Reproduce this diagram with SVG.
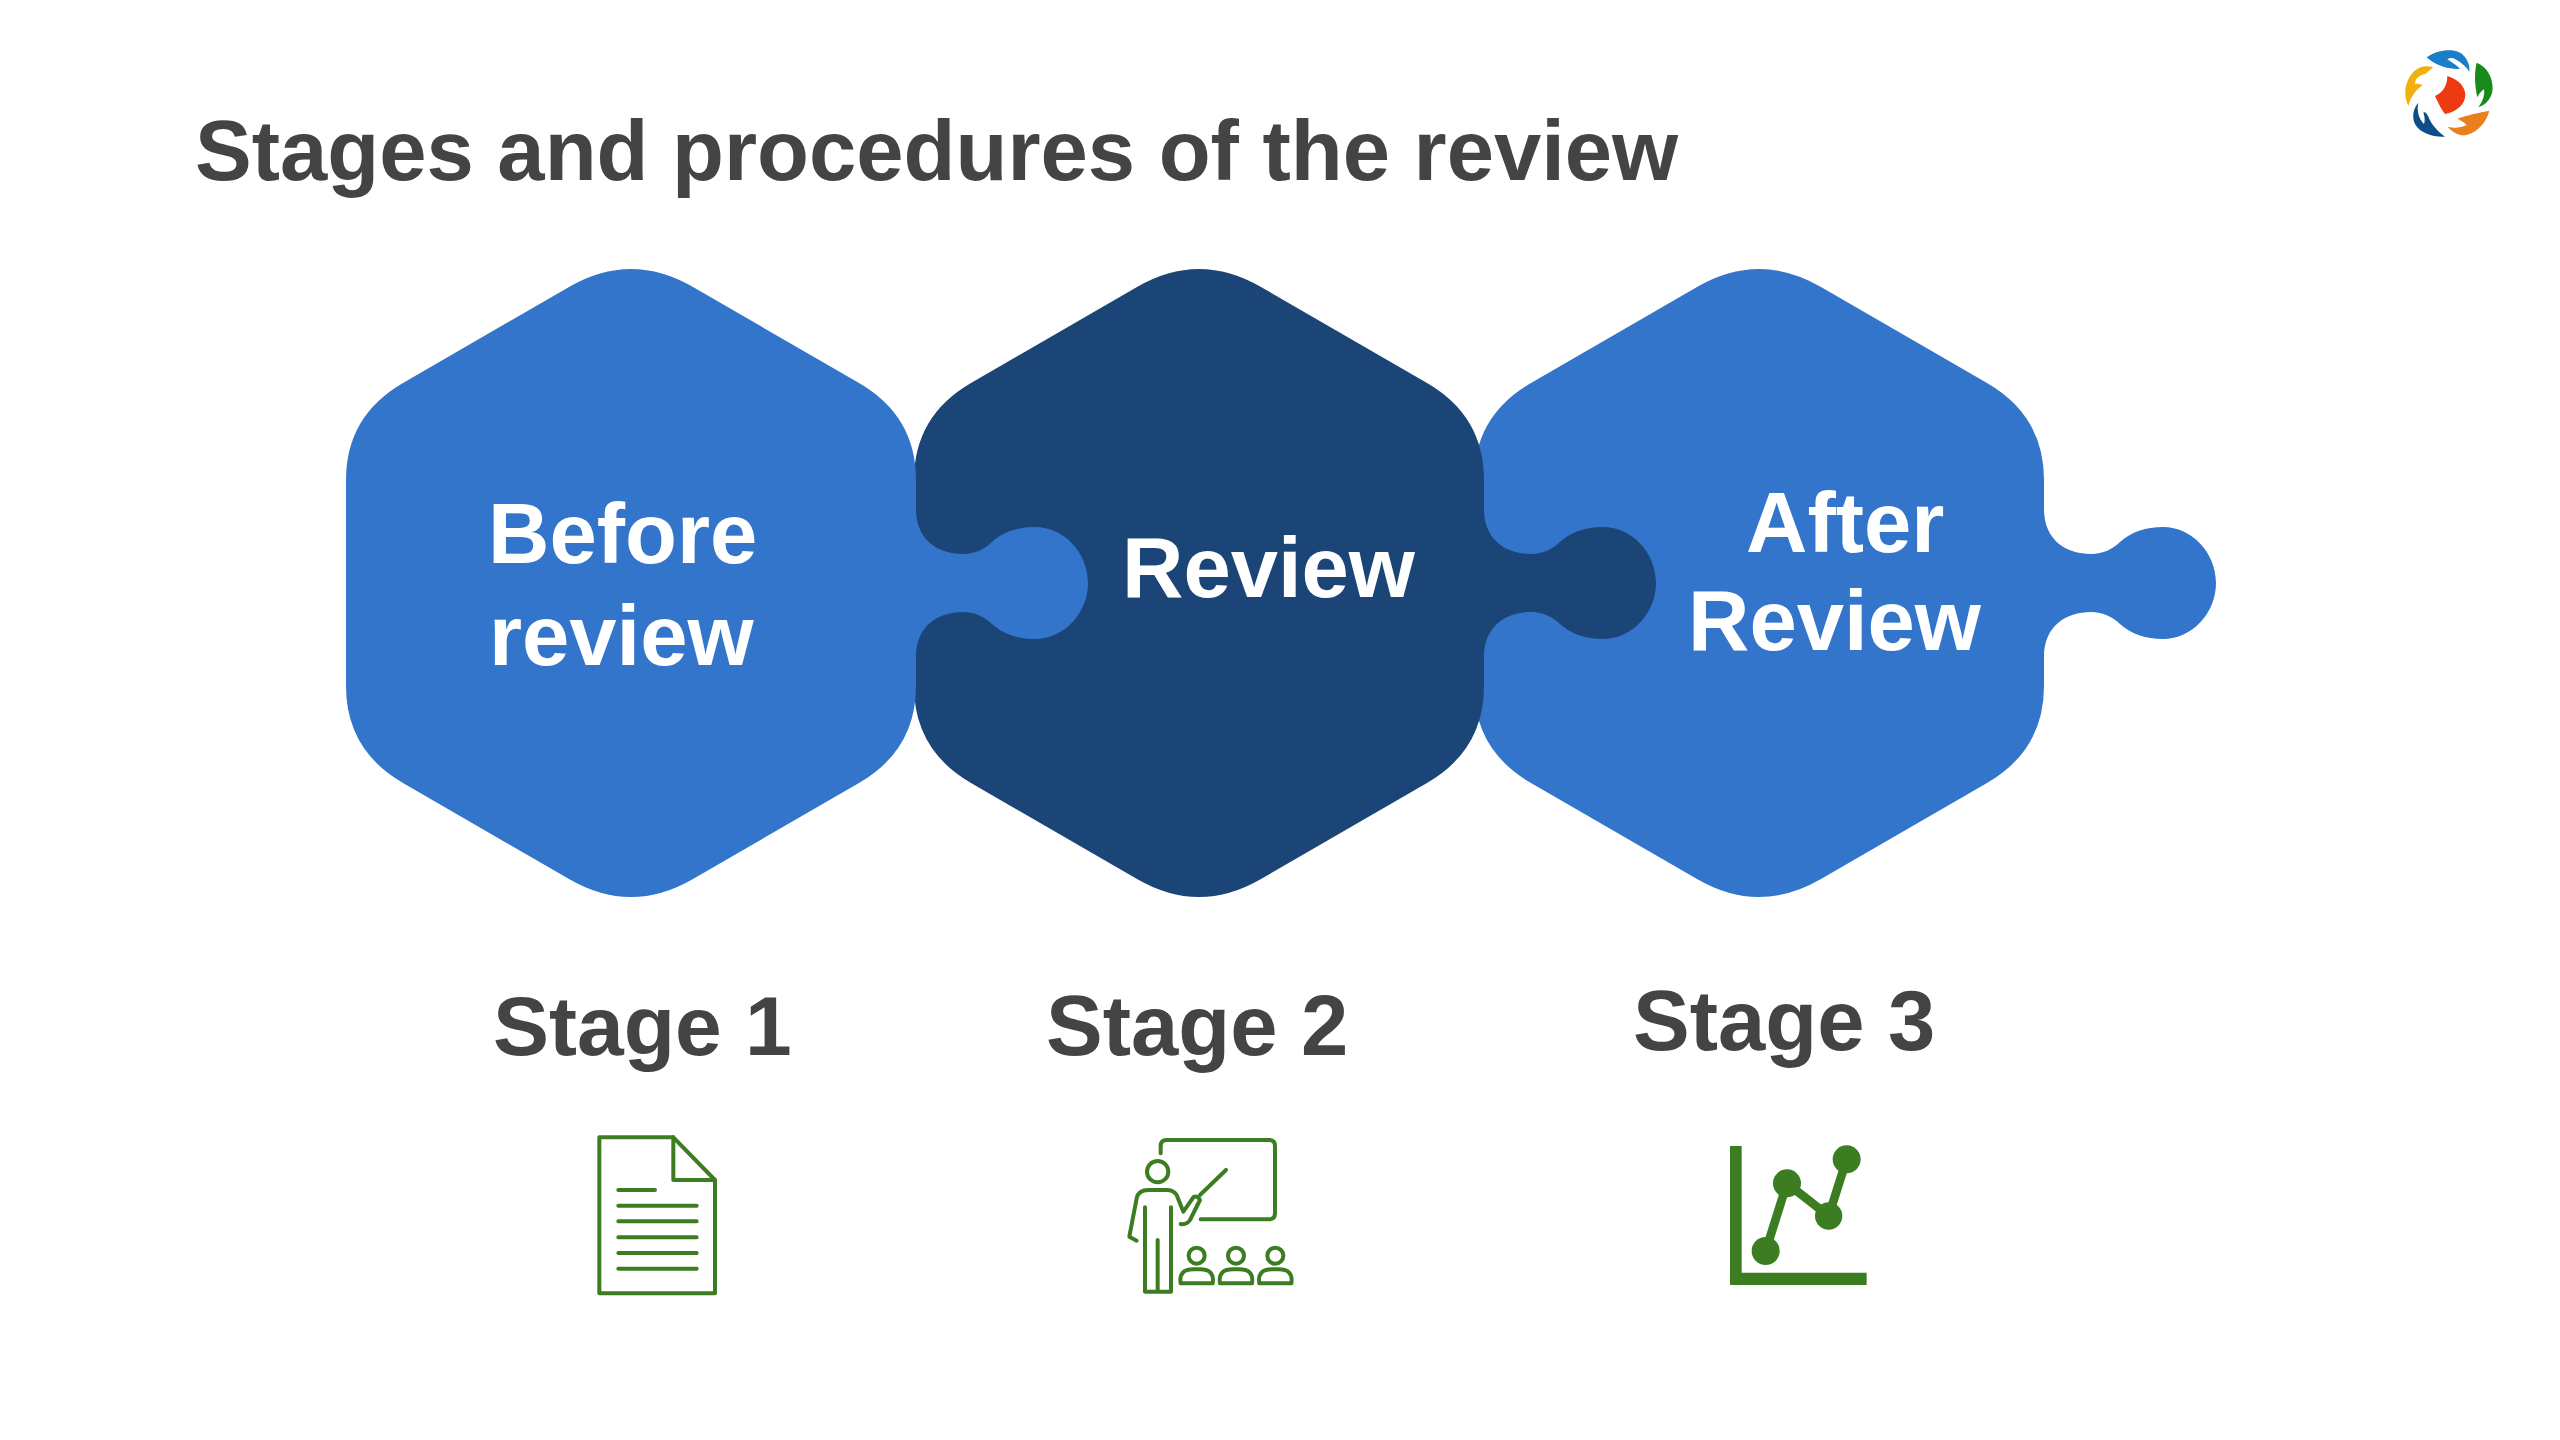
<svg xmlns="http://www.w3.org/2000/svg" width="2560" height="1440" viewBox="0 0 2560 1440">
<style>
text{font-family:"Liberation Sans",Arial,sans-serif;font-weight:700;font-size:85px}
.w{fill:#fff}.d{fill:#444}
.ln{fill:none;stroke:#3c7d22;stroke-width:12;stroke-linecap:round;stroke-linejoin:round}
.gf{fill:#3c7d22}
</style>
<defs>
<path id="piece" d="M-62,287Q0,251 62,287L228,383Q285,416 285,480V509C285,540 307,554 332,554C344,554 354,549 361,542C372,532 387,527 404,527C433,527 457,553 457,583C457,613 433,639 404,639C387,639 372,634 361,624C354,617 344,612 332,612C307,612 285,626 285,657V686Q285,750 228,783L62,879Q0,915 -62,879L-228,783Q-285,750 -285,686V480Q-285,416 -228,383Z"/>
</defs>
<rect width="2560" height="1440" fill="#fff"/>
<text id="title" class="d" x="195" y="180">Stages and procedures of the review</text>
<g id="logo" transform="translate(2360,20) scale(.3333)">
<path fill="#1a7fc8" d="M200,112C235,88 290,82 312,108C325,122 330,140 328,155C318,140 305,128 290,120C280,112 270,112 262,118C272,125 290,135 300,146C265,150 225,135 200,112Z"/>
<path fill="#f0b010" d="M220,142C185,130 155,150 142,185C132,210 135,235 145,258C150,235 165,212 188,195C178,192 170,190 165,192C165,175 180,165 195,163Z"/>
<path fill="#1a8a1a" d="M350,128C380,140 398,170 398,205C398,230 380,255 355,262C368,245 375,225 372,208C365,212 358,220 352,232C345,200 342,160 350,128Z"/>
<path fill="#e88020" d="M388,272C380,305 355,335 320,345C300,350 280,338 262,320C280,325 300,325 320,315C310,305 300,300 292,296C320,285 360,278 388,272Z"/>
<path fill="#0f4c8a" d="M175,248C160,265 155,290 165,312C180,340 220,352 255,350C235,335 215,315 205,290C200,280 195,275 190,278C195,290 195,305 192,312C175,295 170,270 175,248Z"/>
<path fill="#ee3a10" d="M262,168C295,178 316,200 316,225C315,255 290,275 255,282C245,270 235,250 225,228C245,220 262,200 262,168Z"/>
</g>
<g id="stage3-piece">
<use href="#piece" x="1759" fill="#3375ca"/>
<text class="w" x="1746" y="552">After</text>
<text class="w" x="1688" y="650">Review</text>
</g>
<g id="stage2-piece">
<use href="#piece" x="1199" fill="#1c4577"/>
<text class="w" x="1122" y="597">Review</text>
</g>
<g id="stage1-piece">
<use href="#piece" x="631" fill="#3375ca"/>
<text class="w" x="488" y="563">Before</text>
<text class="w" x="489" y="665">review</text>
</g>
<text id="stage1" class="d" x="493" y="1055" style="font-size:84px">Stage 1</text>
<text id="stage2" class="d" x="1046" y="1055">Stage 2</text>
<text id="stage3" class="d" x="1633" y="1050">Stage 3</text>
<g id="icon-document" transform="translate(560,1120) scale(.3333)" class="ln">
<path d="M118,52H340L465,180V520H118Z"/>
<path d="M340,52V180H465"/>
<path d="M175,210H285M175,257H410M175,304H410M175,352H410M175,399H410M175,446H410"/>
</g>
<g id="icon-presenter" transform="translate(1110,1120) scale(.3333)" class="ln">
<path d="M152,100V78Q152,60 170,60H478Q495,60 495,78V280Q495,298 478,298H272"/>
<circle cx="143" cy="155" r="32"/>
<path d="M80,362L58,350L80,235Q85,210 115,210H170Q190,210 200,225L220,275L250,232Q262,225 270,240L240,300Q230,315 212,312"/>
<path d="M270,225L348,150"/>
<path d="M105,262V515H183V262M143,360V515"/>
<g id="audience">
<circle cx="260" cy="407" r="24"/><path d="M212,490Q205,448 250,448H270Q315,448 308,490Z"/>
<circle cx="378" cy="407" r="24"/><path d="M330,490Q323,448 368,448H388Q433,448 426,490Z"/>
<circle cx="496" cy="407" r="24"/><path d="M448,490Q441,448 486,448H506Q551,448 544,490Z"/>
</g>
</g>
<g id="icon-chart" transform="translate(1710,1120) scale(.3333)">
<path class="gf" d="M60,78H95V458H470V495H60Z"/>
<path d="M167,393L231,190L356,288L410,118" fill="none" stroke="#3c7d22" stroke-width="26"/>
<circle class="gf" cx="167" cy="393" r="42"/>
<circle class="gf" cx="231" cy="190" r="42"/>
<circle class="gf" cx="356" cy="288" r="41"/>
<circle class="gf" cx="410" cy="118" r="42"/>
</g>
</svg>
